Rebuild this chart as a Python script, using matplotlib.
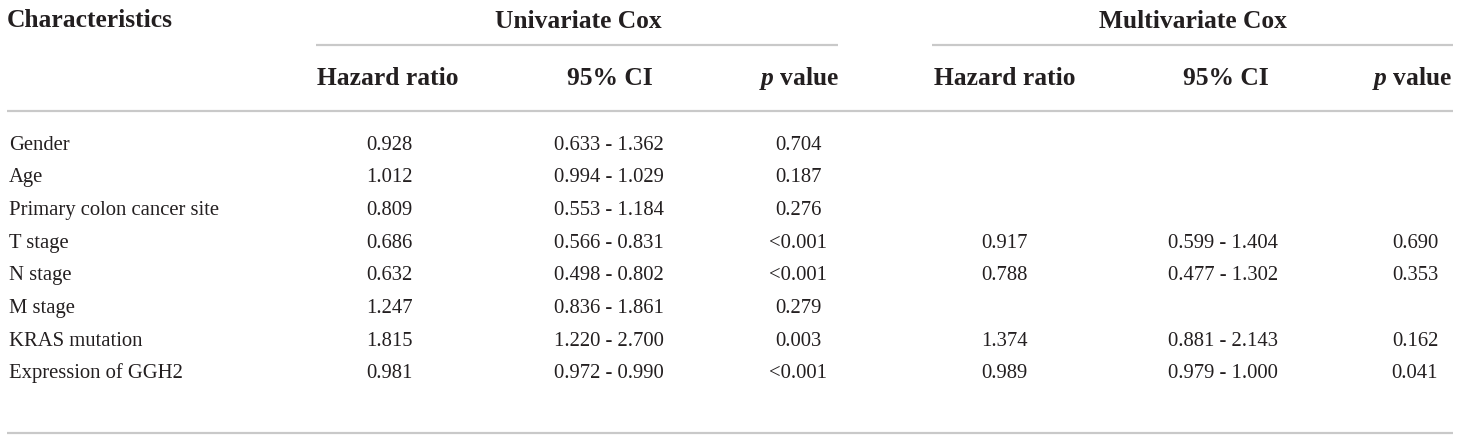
import matplotlib
matplotlib.use("Agg")
import matplotlib.pyplot as plt

characteristics = ["Gender", "Age", "Primary colon cancer site", "T stage",
                   "N stage", "M stage", "KRAS mutation", "Expression of GGH2"]
uni_hr = ["0.928", "1.012", "0.809", "0.686", "0.632", "1.247", "1.815", "0.981"]
uni_ci = ["0.633 - 1.362", "0.994 - 1.029", "0.553 - 1.184", "0.566 - 0.831",
          "0.498 - 0.802", "0.836 - 1.861", "1.220 - 2.700", "0.972 - 0.990"]
uni_p = ["0.704", "0.187", "0.276", "<0.001", "<0.001", "0.279", "0.003", "<0.001"]
multi_hr = ["", "", "", "0.917", "0.788", "", "1.374", "0.989"]
multi_ci = ["", "", "", "0.599 - 1.404", "0.477 - 1.302", "", "0.881 - 2.143", "0.979 - 1.000"]
multi_p = ["", "", "", "0.690", "0.353", "", "0.162", "0.041"]
group_headers = ["Univariate Cox", "Multivariate Cox"]
col_headers = ["Hazard ratio", "95% CI", "$p$ value"]

plt.rcParams["mathtext.fontset"] = "custom"
plt.rcParams["mathtext.it"] = "Liberation Serif:italic:bold"
plt.rcParams["mathtext.rm"] = "Liberation Serif:bold"
plt.rcParams["mathtext.bf"] = "Liberation Serif:bold"

W, H = 1460, 443
fig = plt.figure(figsize=(W / 100, H / 100), dpi=100)
ax = fig.add_axes([0, 0, 1, 1])
ax.set_xlim(0, W)
ax.set_ylim(H, 0)
ax.axis("off")

fam = ["Liberation Serif", "DejaVu Serif"]
tc = "#231f20"
lc = "#c9c9c9"
fs_body = 14.9
fs_head = 18.4

# header
ax.text(7, 27, "Characteristics", fontsize=fs_head, fontweight="bold", family=fam,
        color=tc, ha="left", va="baseline")
ax.text(578, 28, group_headers[0], fontsize=fs_head, fontweight="bold", family=fam,
        color=tc, ha="center", va="baseline")
ax.text(1193, 28, group_headers[1], fontsize=fs_head, fontweight="bold", family=fam,
        color=tc, ha="center", va="baseline")
ax.plot([316, 838], [45, 45], color=lc, lw=1.6, solid_capstyle="butt")
ax.plot([932, 1453], [45, 45], color=lc, lw=1.6, solid_capstyle="butt")

head_uni = [388, 610, 799]
head_multi = [1005, 1226, 1412]
for centers in (head_uni, head_multi):
    for c, lab in zip(centers, col_headers):
        ax.text(c, 85, lab, fontsize=fs_head, fontweight="bold",
                family=fam, color=tc, ha="center", va="baseline")

ax.plot([7, 1453], [111, 111], color=lc, lw=1.6, solid_capstyle="butt")

centers_uni = [389, 609, 798]
centers_multi = [1004, 1223, 1415]
row_y = [150, 182, 215, 248, 280, 313, 346, 378]
for i, y in enumerate(row_y):
    ax.text(9, y, characteristics[i], fontsize=fs_body, family=fam, color=tc,
            ha="left", va="baseline")
    for c, vals in zip(centers_uni, (uni_hr, uni_ci, uni_p)):
        ax.text(c, y, vals[i], fontsize=fs_body, family=fam, color=tc,
                ha="center", va="baseline")
    for c, vals in zip(centers_multi, (multi_hr, multi_ci, multi_p)):
        if vals[i]:
            ax.text(c, y, vals[i], fontsize=fs_body, family=fam, color=tc,
                    ha="center", va="baseline")

ax.plot([7, 1453], [433, 433], color=lc, lw=1.6, solid_capstyle="butt")

fig.savefig("out.png", dpi=100, facecolor="white")
